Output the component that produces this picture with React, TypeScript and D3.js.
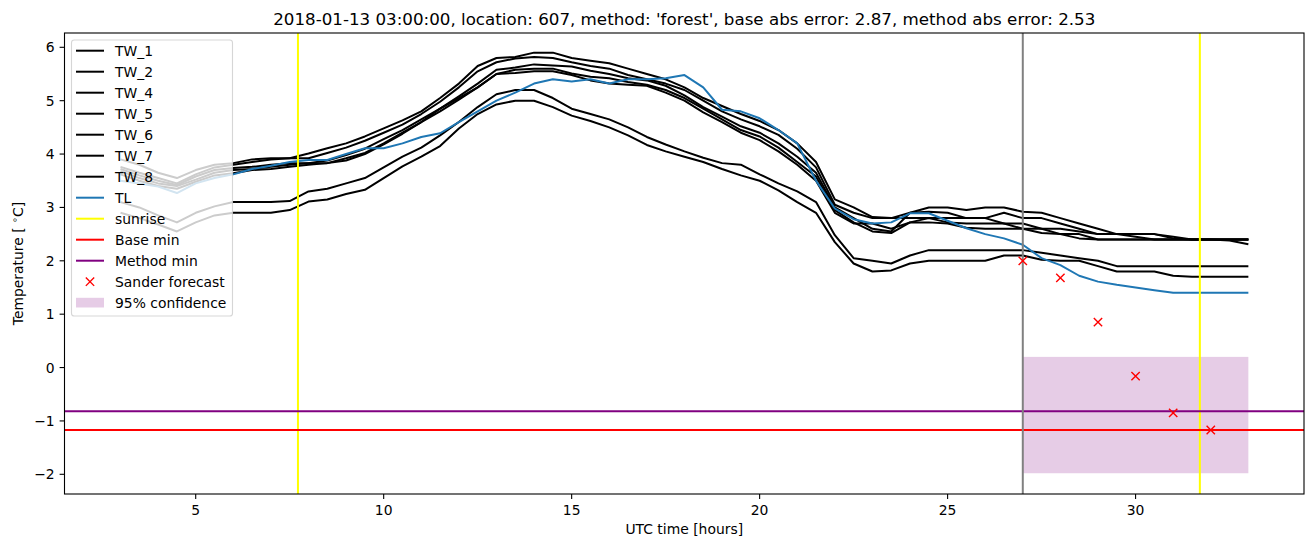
import React from "react";
import * as d3 from "d3";

const HOURS = [3, 3.5, 4, 4.5, 5, 5.5, 6, 6.5, 7, 7.5, 8, 8.5, 9, 9.5, 10, 10.5, 11, 11.5, 12, 12.5, 13, 13.5, 14, 14.5, 15, 15.5, 16, 16.5, 17, 17.5, 18, 18.5, 19, 19.5, 20, 20.5, 21, 21.5, 22, 22.5, 23, 23.5, 24, 24.5, 25, 25.5, 26, 26.5, 27, 27.5, 28, 28.5, 29, 29.5, 30, 30.5, 31, 31.5, 32, 32.5, 33];

const TW_1 = [3.9, 3.8, 3.65, 3.55, 3.7, 3.8, 3.83, 3.9, 3.92, 3.92,
  4.01, 4.11, 4.2, 4.33, 4.48, 4.63, 4.8, 5.05, 5.32, 5.65,
  5.8, 5.82, 5.9, 5.9, 5.8, 5.75, 5.7, 5.6, 5.5, 5.4,
  5.25, 5.05, 4.9, 4.75, 4.62, 4.45, 4.2, 3.85, 3.15, 3.0,
  2.82, 2.8, 2.9, 3.0, 3.0, 2.95, 3.0, 3.0, 2.92, 2.9,
  2.8, 2.7, 2.6, 2.5, 2.5, 2.5, 2.45, 2.4, 2.4, 2.4, 2.4];
const TW_2 = [3.76, 3.65, 3.55, 3.45, 3.62, 3.75, 3.8, 3.85, 3.9, 3.92,
  3.92, 4.02, 4.12, 4.25, 4.4, 4.55, 4.75, 4.98, 5.25, 5.55,
  5.72, 5.79, 5.82, 5.8, 5.72, 5.65, 5.6, 5.48, 5.4, 5.32,
  5.2, 5.0, 4.8, 4.65, 4.52, 4.36, 4.1, 3.75, 3.05, 2.9,
  2.8, 2.8, 2.8, 2.8, 2.8, 2.8, 2.8, 2.9, 2.8, 2.8,
  2.7, 2.6, 2.5, 2.5, 2.45, 2.4, 2.4, 2.4, 2.4, 2.4, 2.4];
const TW_4 = [3.72, 3.6, 3.5, 3.42, 3.58, 3.7, 3.74, 3.76, 3.8, 3.83,
  3.83, 3.88, 3.98, 4.1, 4.28, 4.45, 4.65, 4.85, 5.08, 5.32,
  5.58, 5.62, 5.68, 5.66, 5.64, 5.56, 5.5, 5.42, 5.38, 5.28,
  5.1, 4.88, 4.7, 4.52, 4.4, 4.2, 3.95, 3.65, 3.0, 2.8,
  2.6, 2.55, 2.9, 2.92, 2.9, 2.8, 2.8, 2.7, 2.7, 2.6,
  2.6, 2.55, 2.5, 2.5, 2.5, 2.5, 2.42, 2.4, 2.4, 2.38, 2.31];
const TW_5 = [3.68, 3.55, 3.45, 3.4, 3.52, 3.65, 3.7, 3.72, 3.76, 3.8,
  3.83, 3.83, 3.92, 4.02, 4.2, 4.4, 4.6, 4.8, 5.02, 5.25,
  5.5, 5.58, 5.6, 5.6, 5.51, 5.45, 5.42, 5.35, 5.3, 5.2,
  5.05, 4.85, 4.65, 4.45, 4.33, 4.12, 3.85, 3.58, 2.95, 2.72,
  2.55, 2.52, 2.72, 2.8, 2.72, 2.7, 2.7, 2.7, 2.6, 2.6,
  2.5, 2.5, 2.4, 2.4, 2.4, 2.4, 2.4, 2.4, 2.4, 2.4, 2.4];
const TW_6 = [3.62, 3.5, 3.4, 3.35, 3.48, 3.6, 3.64, 3.7, 3.72, 3.76,
  3.8, 3.83, 3.88, 4.0, 4.18, 4.38, 4.6, 4.85, 5.05, 5.25,
  5.5, 5.52, 5.55, 5.55, 5.48, 5.38, 5.32, 5.3, 5.28, 5.15,
  5.0, 4.78, 4.6, 4.4, 4.26, 4.05, 3.8, 3.5, 2.9, 2.7,
  2.7, 2.6, 2.72, 2.72, 2.7, 2.62, 2.6, 2.6, 2.6, 2.52,
  2.5, 2.42, 2.4, 2.4, 2.4, 2.4, 2.4, 2.4, 2.4, 2.4, 2.4];
const TW_7 = [3.1, 3.0, 2.85, 2.72, 2.9, 3.02, 3.1, 3.1, 3.1, 3.12,
  3.3, 3.35, 3.45, 3.55, 3.75, 3.95, 4.12, 4.35, 4.6, 4.88,
  5.12, 5.2, 5.2, 5.05, 4.85, 4.75, 4.65, 4.5, 4.32, 4.18,
  4.05, 3.93, 3.83, 3.8, 3.62, 3.45, 3.3, 3.1, 2.48, 2.05,
  2.0, 1.95, 2.1, 2.2, 2.2, 2.2, 2.2, 2.2, 2.2, 2.15,
  2.1, 2.05, 2.0, 1.9, 1.9, 1.9, 1.9, 1.9, 1.9, 1.9, 1.9];
const TW_8 = [2.9, 2.8, 2.68, 2.55, 2.72, 2.85, 2.9, 2.9, 2.9, 2.95,
  3.11, 3.15, 3.25, 3.33, 3.55, 3.77, 3.95, 4.15, 4.48, 4.75,
  4.93, 5.0, 5.0, 4.88, 4.72, 4.62, 4.5, 4.35, 4.17, 4.05,
  3.95, 3.85, 3.72, 3.6, 3.5, 3.32, 3.1, 2.9, 2.35, 1.95,
  1.8, 1.82, 1.95, 2.0, 2.0, 2.0, 2.0, 2.1, 2.1, 2.02,
  2.0, 2.0, 1.9, 1.8, 1.8, 1.8, 1.72, 1.7, 1.7, 1.7, 1.7];
const TL = [3.5, 3.45, 3.39, 3.27, 3.45, 3.55, 3.62, 3.72, 3.78, 3.85,
  3.89, 3.89, 4.0, 4.11, 4.11, 4.2, 4.32, 4.39, 4.6, 4.8,
  5.0, 5.15, 5.32, 5.4, 5.36, 5.4, 5.32, 5.4, 5.4, 5.42,
  5.48, 5.25, 4.83, 4.8, 4.67, 4.45, 4.2, 3.5, 2.98, 2.78,
  2.7, 2.72, 2.89, 2.89, 2.75, 2.61, 2.5, 2.42, 2.3, 2.05,
  1.92, 1.72, 1.61, 1.55, 1.5, 1.45, 1.4, 1.4, 1.4, 1.4, 1.4];

const SANDER_HOURS = [27, 28, 29, 30, 31, 32];
const SANDER_VALUES = [2.0, 1.68, 0.85, -0.16, -0.85, -1.17];
const SUNRISE_HOURS = [7.72, 31.71];
const FORECAST_HOUR = 27;
const BASE_MIN = -1.17;
const METHOD_MIN = -0.82;
const CONF_HOURS = [27, 33];
const CONF_RANGE = [-1.98, 0.2];
const X_TICKS = [5, 10, 15, 20, 25, 30];
const Y_TICKS = [-2, -1, 0, 1, 2, 3, 4, 5, 6];
const TW_NAMES = ["TW_1", "TW_2", "TW_4", "TW_5", "TW_6", "TW_7", "TW_8"];
const TITLE = "2018-01-13 03:00:00, location: 607, method: 'forest', base abs error: 2.87, method abs error: 2.53";

const W = 1313;
const H = 547;
const L = 64.5, R = 1304, T = 33, B = 494;
const FONT = "DejaVu Sans, Liberation Sans, sans-serif";

export default function App() {
  const x = d3.scaleLinear().domain([1.51, 34.48]).range([L, R]);
  const y = d3.scaleLinear().domain([-2.369, 6.268]).range([B, T]);
  const line = d3.line<number>().x((_, i) => x(HOURS[i])).y((d) => y(d));
  const twSeries = [TW_1, TW_2, TW_4, TW_5, TW_6, TW_7, TW_8];

  const legendItems: { label: string; kind: string; color: string }[] = [
    ...TW_NAMES.map((n) => ({ label: n, kind: "line", color: "#000000" })),
    { label: "TL", kind: "line", color: "#1f77b4" },
    { label: "sunrise", kind: "line", color: "#ffff00" },
    { label: "Base min", kind: "line", color: "#ff0000" },
    { label: "Method min", kind: "line", color: "#800080" },
    { label: "Sander forecast", kind: "marker", color: "#ff0000" },
    { label: "95% confidence", kind: "patch", color: "#800080" },
  ];

  const cross = (cx: number, cy: number, key: string, s = 4.17) => (
    <path key={key} d={`M${cx - s},${cy - s}L${cx + s},${cy + s}M${cx - s},${cy + s}L${cx + s},${cy - s}`} stroke="#ff0000" strokeWidth={1.4} fill="none" />
  );

  return (
    <svg width={W} height={H} style={{ position: "absolute", left: 0, top: 0, display: "block" }} fontFamily={FONT}>
      <rect x={0} y={0} width={W} height={H} fill="#ffffff" />
      <defs>
        <clipPath id="plotclip">
          <rect x={L} y={T} width={R - L} height={B - T} />
        </clipPath>
      </defs>
      <g clipPath="url(#plotclip)">
        <rect x={x(CONF_HOURS[0])} y={y(CONF_RANGE[1])} width={x(CONF_HOURS[1]) - x(CONF_HOURS[0])} height={y(CONF_RANGE[0]) - y(CONF_RANGE[1])} fill="#800080" fillOpacity={0.2} />
        {twSeries.map((s, i) => (
          <path key={"tw" + i} d={line(s) || ""} fill="none" stroke="#000000" strokeWidth={2} strokeLinejoin="round" />
        ))}
        <path d={line(TL) || ""} fill="none" stroke="#1f77b4" strokeWidth={2} strokeLinejoin="round" />
        {SUNRISE_HOURS.map((h, i) => (
          <line key={"sr" + i} x1={x(h)} x2={x(h)} y1={T} y2={B} stroke="#ffff00" strokeWidth={2} />
        ))}
        <line x1={L} x2={R} y1={y(BASE_MIN)} y2={y(BASE_MIN)} stroke="#ff0000" strokeWidth={2} />
        <line x1={L} x2={R} y1={y(METHOD_MIN)} y2={y(METHOD_MIN)} stroke="#800080" strokeWidth={2} />
        <line x1={x(FORECAST_HOUR)} x2={x(FORECAST_HOUR)} y1={T} y2={B} stroke="#808080" strokeWidth={2} />
        {SANDER_HOURS.map((h, i) => cross(x(h), y(SANDER_VALUES[i]), "sf" + i))}
      </g>

      {/* spines */}
      <rect x={L} y={T} width={R - L} height={B - T} fill="none" stroke="#000000" strokeWidth={1.1} />

      {/* x ticks */}
      {X_TICKS.map((t) => (
        <g key={"xt" + t}>
          <line x1={x(t)} x2={x(t)} y1={B} y2={B + 4.9} stroke="#000" strokeWidth={1.1} />
          <text x={x(t)} y={B + 20.5} fontSize={13.9} textAnchor="middle" fill="#000">{t}</text>
        </g>
      ))}
      {/* y ticks */}
      {Y_TICKS.map((t) => (
        <g key={"yt" + t}>
          <line x1={L - 4.9} x2={L} y1={y(t)} y2={y(t)} stroke="#000" strokeWidth={1.1} />
          <text x={L - 9.8} y={y(t) + 5} fontSize={13.9} textAnchor="end" fill="#000">{t < 0 ? "\u2212" + Math.abs(t) : t}</text>
        </g>
      ))}

      <text x={(L + R) / 2} y={533.5} fontSize={13.9} textAnchor="middle" fill="#000">UTC time [hours]</text>
      <text transform={`translate(22.5, ${(T + B) / 2}) rotate(-90)`} fontSize={13.9} textAnchor="middle" fill="#000">
        Temperature [ <tspan fontSize={9.7} dy={-5}>{"\u2218"}</tspan><tspan dy={5}>C]</tspan>
      </text>
      <text x={(L + R) / 2} y={24.5} fontSize={16.7} textAnchor="middle" fill="#000">{TITLE}</text>

      {/* legend */}
      <rect x={71.5} y={40} width={161} height={276} rx={2.8} fill="#ffffff" fillOpacity={0.8} stroke="#cccccc" strokeOpacity={0.8} strokeWidth={1.1} />
      {legendItems.map((it, i) => {
        const ly = 50.7 + 21 * i;
        return (
          <g key={"lg" + i}>
            {it.kind === "line" && <line x1={76} x2={104} y1={ly} y2={ly} stroke={it.color} strokeWidth={2} />}
            {it.kind === "marker" && cross(90, ly, "lgm")}
            {it.kind === "patch" && <rect x={76} y={ly - 4.9} width={28} height={9.7} fill={it.color} fillOpacity={0.2} />}
            <text x={115} y={ly + 5} fontSize={13.9} fill="#000">{it.label}</text>
          </g>
        );
      })}
    </svg>
  );
}
